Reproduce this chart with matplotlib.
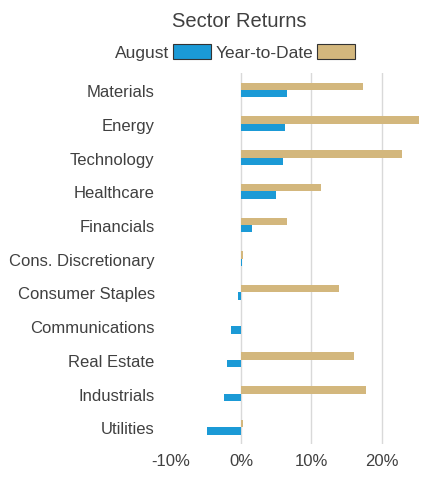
import matplotlib
matplotlib.use("Agg")
import matplotlib.pyplot as plt
import numpy as np
from matplotlib.patches import Patch

plt.rcParams['font.family'] = ['Liberation Sans', 'DejaVu Sans']

sectors = ["Materials", "Energy", "Technology", "Healthcare", "Financials",
           "Cons. Discretionary", "Consumer Staples", "Communications",
           "Real Estate", "Industrials", "Utilities"]
august = [6.6, 6.3, 6.0, 4.9, 1.6, 0.2, -0.4, -1.4, -2.0, -2.4, -4.9]
ytd = [17.3, 25.3, 22.9, 11.3, 6.6, 0.3, 13.9, 0.0, 16.0, 17.7, 0.3]
ticks = [-10, 0, 10, 20]
tick_labels = ["-10%", "0%", "10%", "20%"]

blue = "#1B9AD6"
tan = "#D3B77D"

fig = plt.figure(figsize=(4.48, 4.85), dpi=100)
ax = fig.add_axes([0.37, 0.082, 0.57, 0.765])
y = np.arange(len(sectors))
h = 0.22
ax.barh(y - h/2, ytd, height=h, color=tan, zorder=3)
ax.barh(y + h/2, august, height=h, color=blue, zorder=3)
ax.set_ylim(len(sectors) - 0.5, -0.5)
ax.set_xlim(-10.7, 25.6)
ax.set_yticks(y)
ax.set_yticklabels(sectors, fontsize=12, color="#404040")
ax.set_xticks(ticks)
ax.set_xticklabels(tick_labels, fontsize=12, color="#404040")
ax.tick_params(length=0, pad=6)
ax.tick_params(axis="y", pad=8)
for x in [0, 10, 20]:
    ax.axvline(x, color="#D9D9D9", lw=1, zorder=1)
for s in ax.spines.values():
    s.set_visible(False)

fig.text(0.535, 0.955, "Sector Returns", ha="center", va="center", fontsize=14.5, color="#404040")
handles = [Patch(facecolor=blue, edgecolor="#333333", lw=0.8),
           Patch(facecolor=tan, edgecolor="#333333", lw=0.8)]
fig.legend(handles, ["August", "Year-to-Date"], loc="center", bbox_to_anchor=(0.525, 0.89),
           ncol=2, frameon=False, markerfirst=False, fontsize=12.5, handlelength=2.2,
           handleheight=0.9, columnspacing=0.3, handletextpad=0.2, labelcolor="#404040")
fig.savefig("out.png", dpi=100)
